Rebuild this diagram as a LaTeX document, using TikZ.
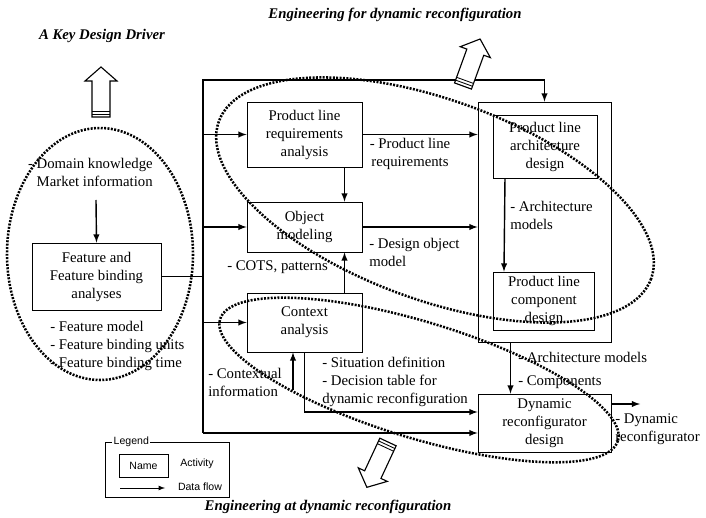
\documentclass[tikz,border=0pt]{standalone}
\usepackage{fontspec}
\setmainfont{Liberation Serif}
\newfontfamily\legendfont{Liberation Sans}

\tikzset{
    activity/.style={draw, line width=0.6pt, align=center, inner sep=1pt},
    flow/.style={-latex, line width=1pt},
    group/.style={line width=1.8pt, dash pattern=on 1.4pt off 1pt},
    note/.style={align=left, inner sep=0pt},
    headline/.style={font=\fontsize{10.5}{12.8}\selectfont\bfseries\itshape},
    legendtext/.style={font=\legendfont\fontsize{7.5}{9}\selectfont},
    fatarrow/.pic={
        \draw[fill=white, line width=0.8pt] (-9,0) -- (-9,-36) -- (-16,-36) -- (0,-50)
            -- (16,-36) -- (9,-36) -- (9,0) -- cycle;
        \draw[line width=0.6pt] (-9,-3) -- (9,-3) (-9,-6) -- (9,-6);
    }
}

\begin{document}
\begin{tikzpicture}[x=0.025cm, y=-0.025cm, font=\fontsize{10.5}{12.8}\selectfont]
    \useasboundingbox (0,0) rectangle (706,518);

    % activities
    \node[activity, minimum width=3.225cm, minimum height=1.675cm] (feat) at (96.5,276.5) {Feature and\\Feature binding\\analyses};
    \node[activity, minimum width=2.875cm, minimum height=1.625cm] (plra) at (304.5,134.5) {Product line\\requirements\\analysis};
    \node[activity, minimum width=2.875cm, minimum height=1.25cm] (om) at (304.5,227) {Object\\modeling};
    \node[activity, minimum width=2.875cm, minimum height=1.475cm] (ca) at (304.5,322.5) {Context\\analysis};
    \node[draw, line width=0.6pt, minimum width=3.325cm, minimum height=6cm] (arch) at (544.5,222) {};
    \node[activity, minimum width=2.6cm, minimum height=1.575cm] (plad) at (545,146.5) {Product line\\architecture\\design};
    \node[activity, minimum width=2.525cm, minimum height=1.45cm] (plcd) at (544,301) {Product line\\component\\design};
    \node[activity, minimum width=3.325cm, minimum height=1.45cm] (dr) at (544.5,423) {Dynamic\\reconfigurator\\design};

    % data and labels
    \node[note, align=right, anchor=north east] (dom) at (153,158) {- Domain knowledge\\Market information};
    \node[note, anchor=north west] (fout) at (50,321) {- Feature model\\- Feature binding units\\- Feature binding time};
    \node[note, align=center, anchor=north] (plreq) at (410,138) {- Product line\\requirements};
    \node[note, anchor=north west] (dobj) at (369,238) {- Design object\\model};
    \node[note, anchor=west] (cots) at (227,267) {- COTS, patterns};
    \node[note, anchor=north west] (archm) at (510,201) {- Architecture\\models};
    \node[note, anchor=west] (archm2) at (518,357) {- Architecture models};
    \node[note, anchor=west] (comps) at (518,382) {- Components};
    \node[note, anchor=north west] (sit) at (322,357) {- Situation definition\\- Decision table for\\dynamic reconfiguration};
    \node[note, anchor=north west] (ctxinfo) at (208,368) {- Contextual\\information};
    \node[note, anchor=north west] (dyn) at (615,413) {- Dynamic\\reconfigurator};

    % connectors
    \coordinate (bus) at (203,80);
    \coordinate (busend) at (203,433);
    \coordinate (dk) at (96,200);
    \coordinate (ctx) at (293,390);
    \coordinate (drout) at (640,404);
    \draw[flow] (dk) -- (feat.north);
    \draw[line width=1pt] (feat.east) -- (feat.east -| bus);
    \draw[flow] (busend) -- (bus) -| (arch.north);
    \draw[flow] (plra.west -| bus) -- (plra.west);
    \draw[flow] (om.west -| bus) -- (om.west);
    \draw[flow] (ca.west -| bus) -- (ca.west);
    \draw[flow] (busend) -- (dr.west |- busend);
    \draw[flow] (plra.east) -- (plra.east -| arch.west);
    \draw[flow] (om.east) -- (om.east -| arch.west);
    \draw[flow] ([xshift=1cm]plra.south) -- ([xshift=1cm]om.north);
    \draw[flow] ([xshift=1cm]ca.north) -- ([xshift=1cm]om.south);
    \draw[flow] (ctx) -- (ctx |- ca.south);
    \draw[flow] (ca.south) |- ([yshift=0.275cm]dr.west);
    \draw[flow] ([xshift=-1cm]plad.south) -- ([xshift=-1cm]plcd.north);
    \draw[flow] ([xshift=-0.85cm]arch.south) -- ([xshift=-0.85cm]dr.north);
    \draw[flow] (drout -| dr.east) -- (drout);

    % groups
    \draw[group] (100,254) ellipse [x radius=93, y radius=126];
    \draw[group, rotate around={-20:(435,200)}] (435,200) ellipse [x radius=230, y radius=100];
    \draw[group, rotate around={-17:(419,380)}] (419,380) ellipse [x radius=208, y radius=58];

    \pic at (101,117) {fatarrow};
    \pic[rotate=-20] at (463,86) {fatarrow};
    \pic[rotate=155] at (388,442) {fatarrow};

    \node[headline] (driver) at (102,36) {A Key Design Driver};
    \node[headline] (forrec) at (395,15) {Engineering for dynamic reconfiguration};
    \node[headline] (atrec) at (328,507) {Engineering at dynamic reconfiguration};

    % legend
    \node[draw, line width=0.6pt, minimum width=3.1cm, minimum height=1.375cm] (legend) at (167,469.5) {};
    \node[legendtext, fill=white, inner sep=1pt, anchor=west] (legtitle) at (112,442) {Legend};
    \node[legendtext, draw, line width=0.6pt, minimum width=1.225cm, minimum height=0.575cm] (name) at (143.5,465.5) {Name};
    \node[legendtext] (act) at (197,464) {Activity};
    \coordinate (lgs) at (120,488);
    \coordinate (lge) at (165,488);
    \draw[-latex, line width=0.6pt] (lgs) -- (lge);
    \node[legendtext] (df) at (200,487) {Data flow};
\end{tikzpicture}
\end{document}
